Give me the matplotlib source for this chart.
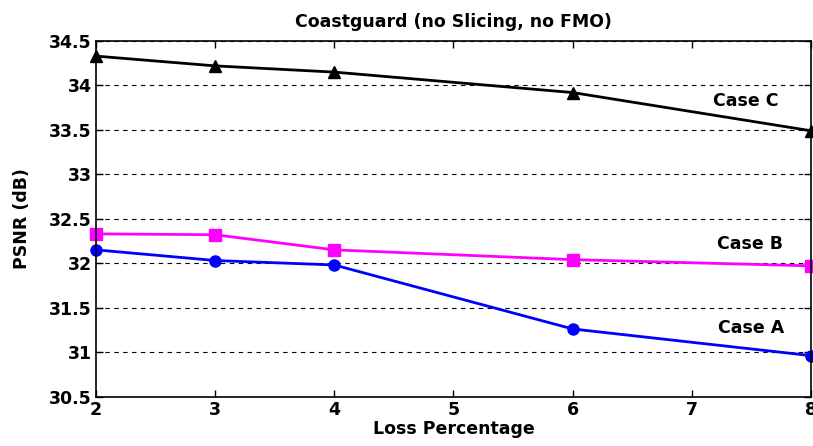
import matplotlib
matplotlib.use('Agg')
import matplotlib.pyplot as plt

# loss percentage on x
loss = [2, 3, 4, 6, 8]

# PSNR (dB) per case
case_a = [32.15, 32.03, 31.98, 31.26, 30.96]
case_b = [32.33, 32.32, 32.15, 32.04, 31.97]
case_c = [34.33, 34.22, 34.15, 33.92, 33.49]

plt.rcParams['font.family'] = ['DejaVu Sans']
plt.rcParams['font.weight'] = 'bold'
FS = 12.5

fig = plt.figure(figsize=(8.13, 4.46), dpi=100)
ax = fig.add_axes([96 / 813, 1 - 396.5 / 446, (811 - 96) / 813, (396.5 - 41) / 446])

ax.plot(loss, case_c, color='black', lw=2, marker='^', ms=9, clip_on=False)
ax.plot(loss, case_b, color='#ff00ff', lw=2, marker='s', ms=8, clip_on=False)
ax.plot(loss, case_a, color='#0000ff', lw=2, marker='o', ms=8, clip_on=False)

ax.text(7.45, 33.83, 'Case C', ha='center', va='center', fontsize=FS, fontweight='bold')
ax.text(7.49, 32.22, 'Case B', ha='center', va='center', fontsize=FS, fontweight='bold')
ax.text(7.50, 31.27, 'Case A', ha='center', va='center', fontsize=FS, fontweight='bold')

ax.set_xlim(2, 8)
ax.set_ylim(30.5, 34.5)
ax.set_xticks(range(2, 9))
ax.set_yticks([30.5, 31, 31.5, 32, 32.5, 33, 33.5, 34, 34.5])
ax.set_yticklabels(['30.5', '31', '31.5', '32', '32.5', '33', '33.5', '34', '34.5'])
ax.yaxis.grid(True, linestyle=(0, (4, 4)), color='black', lw=0.8)
ax.tick_params(direction='in', top=True, right=True, labelsize=FS, length=5, width=1, pad=3)
for lab in ax.get_xticklabels() + ax.get_yticklabels():
    lab.set_fontweight('bold')
for sp in ax.spines.values():
    sp.set_linewidth(1.2)

ax.set_title('Coastguard (no Slicing, no FMO)', fontsize=FS, fontweight='bold', pad=10)
ax.set_xlabel('Loss Percentage', fontsize=FS, fontweight='bold', labelpad=1)
ax.set_ylabel('PSNR (dB)', fontsize=FS, fontweight='bold', labelpad=13)

fig.savefig('out.png', dpi=100)
